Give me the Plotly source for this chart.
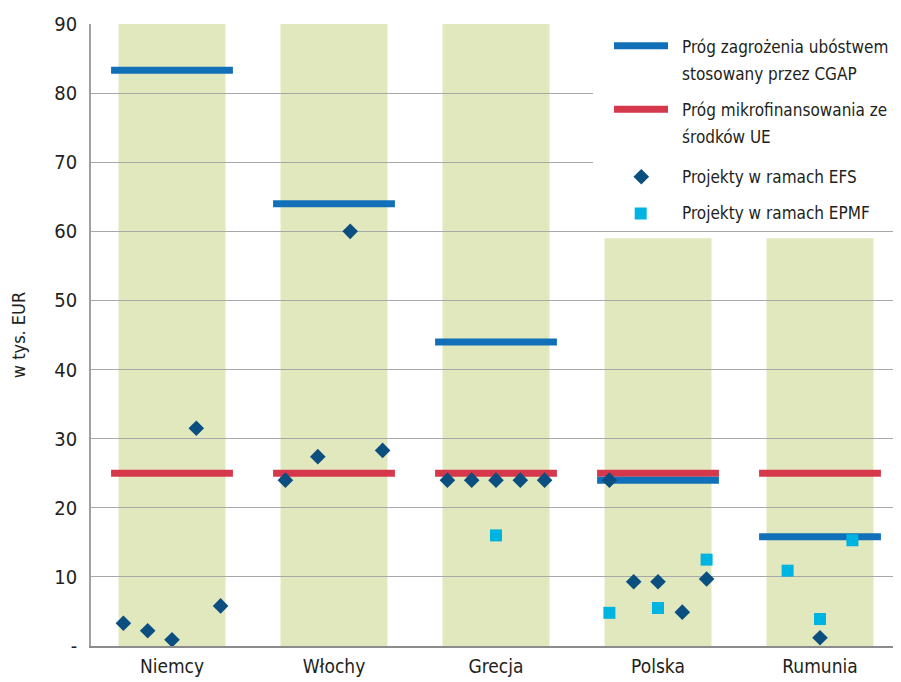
import plotly.graph_objects as go
import numpy as np

countries = ["Niemcy", "Włochy", "Grecja", "Polska", "Rumunia"]
cgap_threshold = [83.3, 64.0, 44.0, 24.0, 15.8]
eu_micro_threshold = [25.0, 25.0, 25.0, 25.0, 25.0]
band_top = [90, 90, 90, 59, 59]

efs_niemcy = [3.3, 2.2, 0.9, 31.5, 5.8]
efs_wlochy = [24.0, 27.4, 60.0, 28.3]
efs_grecja = [24.0, 24.0, 24.0, 24.0, 24.0]
efs_polska = [24.0, 9.3, 9.3, 4.9, 9.7]
efs_rumunia = [1.2]

epmf_niemcy = []
epmf_wlochy = []
epmf_grecja = [16.0]
epmf_polska = [4.8, 5.5, 12.5]
epmf_rumunia = [10.9, 3.9, 15.3]

y_tickvals = [0, 10, 20, 30, 40, 50, 60, 70, 80, 90]
y_ticktext = ["-", "10", "20", "30", "40", "50", "60", "70", "80", "90"]

legend_lines = [
    ["Próg zagrożenia ubóstwem", "stosowany przez CGAP"],
    ["Próg mikrofinansowania ze", "środków UE"],
    ["Projekty w ramach EFS"],
    ["Projekty w ramach EPMF"],
]

# --- styling / positioning ---
FONT = "DejaVu Sans Condensed, Liberation Sans, sans-serif"
TXT = "#231f20"
BLUE = "#1170b8"
RED = "#d5374b"
DIAMOND = "#0b4f80"
SQUARE = "#00b4e1"
BAND = "#e2e8bd"
GRID = "#a8a8a8"

# page body has an 8px margin: figure is shifted by (8, 8)
OFF = 8
W, H = 901 - OFF, 682 - OFF

efs_series = [efs_niemcy, efs_wlochy, efs_grecja, efs_polska, efs_rumunia]
epmf_series = [epmf_niemcy, epmf_wlochy, epmf_grecja, epmf_polska, epmf_rumunia]
epmf_spread = [0.3, 0.3, 0.3, 0.3, 0.2]


def spread_x(i, n, spread=0.3):
    if n == 0:
        return []
    if n == 1:
        return [float(i)]
    return list(i + np.linspace(-spread, spread, n))


def seg_xy(values, half=0.376):
    xs, ys = [], []
    for i, v in enumerate(values):
        xs += [i - half, i + half, None]
        ys += [v, v, None]
    return xs, ys


fig = go.Figure()

for vals, col in [(eu_micro_threshold, RED), (cgap_threshold, BLUE)]:
    xs, ys = seg_xy(vals)
    fig.add_trace(go.Scatter(x=xs, y=ys, mode="lines",
                             line=dict(color=col, width=7),
                             showlegend=False, hoverinfo="skip"))

ex, ey = [], []
for i, vals in enumerate(epmf_series):
    ex += spread_x(i, len(vals), epmf_spread[i])
    ey += vals
fig.add_trace(go.Scatter(x=ex, y=ey, mode="markers",
                         marker=dict(symbol="square", size=12, color=SQUARE),
                         showlegend=False))

dx, dy = [], []
for i, vals in enumerate(efs_series):
    dx += spread_x(i, len(vals))
    dy += vals
fig.add_trace(go.Scatter(x=dx, y=dy, mode="markers",
                         marker=dict(symbol="diamond", size=12, color=DIAMOND),
                         showlegend=False))

shapes = []
for i, top in enumerate(band_top):
    shapes.append(dict(type="rect", xref="x", yref="y", x0=i - 0.33, x1=i + 0.33,
                       y0=0, y1=top, fillcolor=BAND, line=dict(width=0),
                       layer="below"))

# manual legend on a pixel-coordinate overlay axis (page pixel coords)
PL, PR, PT, PB = 91, 901, 24, 646
# white legend box (hides gridlines 70 and 80)
fig.add_trace(go.Scatter(x=[593, 901, 901, 593, 593], y=[25.5, 25.5, 229.5, 229.5, 25.5],
                         xaxis="x2", yaxis="y2", mode="lines", fill="toself",
                         fillcolor="white", line=dict(width=0, color="white"),
                         showlegend=False, hoverinfo="skip"))
leg_line_y = [45.7, 109.3]
leg_line_cols = [BLUE, RED]
for yy, col in zip(leg_line_y, leg_line_cols):
    fig.add_trace(go.Scatter(x=[614, 668], y=[yy, yy], xaxis="x2", yaxis="y2",
                             mode="lines", line=dict(color=col, width=7),
                             showlegend=False, hoverinfo="skip"))
fig.add_trace(go.Scatter(x=[641.3], y=[176.7], xaxis="x2", yaxis="y2", mode="markers",
                         marker=dict(symbol="diamond", size=12, color=DIAMOND),
                         showlegend=False, hoverinfo="skip"))
fig.add_trace(go.Scatter(x=[640.7], y=[213.5], xaxis="x2", yaxis="y2", mode="markers",
                         marker=dict(symbol="square", size=12, color=SQUARE),
                         showlegend=False, hoverinfo="skip"))

annotations = []
leg_text_y = [[46.5, 74], [110, 136.7], [176.7], [213.3]]
for lines, ys in zip(legend_lines, leg_text_y):
    for txt, yy in zip(lines, ys):
        annotations.append(dict(xref="x2", yref="y2", x=680, y=yy, text=txt,
                                showarrow=False, xanchor="left", yanchor="middle",
                                align="left",
                                font=dict(family=FONT, size=17, color=TXT)))

fig.update_layout(
    width=W, height=H,
    margin=dict(l=PL - OFF, r=0, t=PT - OFF, b=H - (PB - OFF), pad=0),
    paper_bgcolor="white", plot_bgcolor="white",
    font=dict(family=FONT, size=20, color=TXT),
    shapes=shapes, annotations=annotations,
    showlegend=False,
    xaxis=dict(range=[-0.5, 4.5], tickvals=list(range(len(countries))),
               ticktext=countries, showgrid=False, zeroline=False,
               showline=True, linecolor="#8c8c8c", linewidth=1.5,
               ticks="", ticklabelstandoff=2,
               tickfont=dict(family=FONT, size=19, color=TXT)),
    yaxis=dict(range=[0, 90], tickvals=y_tickvals, ticktext=y_ticktext,
               showgrid=True, gridcolor=GRID, gridwidth=1.3, zeroline=False,
               showline=True, linecolor="#a0a0a0", linewidth=1.5,
               ticks="", ticklabelstandoff=8,
               title=dict(text="w tys. EUR", standoff=30,
                          font=dict(family=FONT, size=18, color=TXT)),
               tickfont=dict(family=FONT, size=20, color=TXT)),
    xaxis2=dict(range=[PL, PR], overlaying="x", visible=False, fixedrange=True),
    yaxis2=dict(range=[PB, PT], overlaying="y", visible=False, fixedrange=True),
)

fig.write_html("out.html")
